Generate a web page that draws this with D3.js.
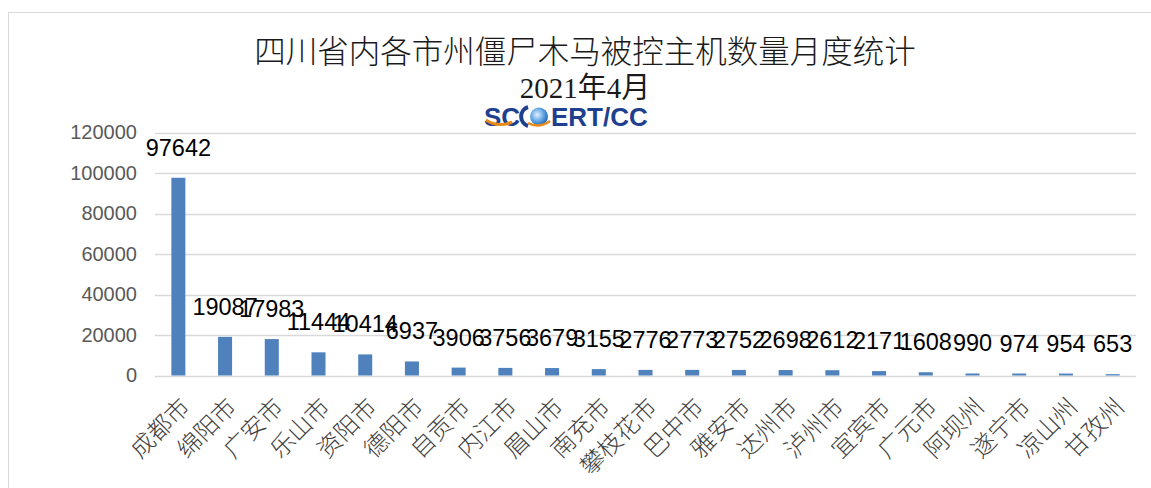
<!DOCTYPE html>
<html>
<head>
<meta charset="utf-8">
<script src="https://cdn.jsdelivr.net/npm/d3@7"></script>
<style>
  html, body { margin: 0; padding: 0; background: #fff; }
  svg { display: block; }
</style>
</head>
<body>
<svg id="chart" width="1151" height="488"></svg>
<script>
// Monthly count of botnet-controlled hosts per city/prefecture, April 2021
const categories = ["成都市","绵阳市","广安市","乐山市","资阳市","德阳市","自贡市","内江市","眉山市","南充市","攀枝花市","巴中市","雅安市","达州市","泸州市","宜宾市","广元市","阿坝州","遂宁市","凉山州","甘孜州"];
const values = [97642,19087,17983,11444,10414,6937,3906,3756,3679,3155,2776,2773,2752,2698,2612,2171,1608,990,974,954,653];
const yTicks = [0,20000,40000,60000,80000,100000,120000];

const svg = d3.select("#chart");

// outer chart frame
svg.append("rect")
  .attr("x", 8.5).attr("y", 12.5)
  .attr("width", 1160).attr("height", 490)
  .attr("fill", "#fff").attr("stroke", "#d9d9d9");

const plot = { left: 155, right: 1136, top: 132.5, bottom: 375.5 };

const x = d3.scaleBand().domain(categories).range([plot.left, plot.right]).paddingInner(0.7).paddingOuter(0.35);
const y = d3.scaleLinear().domain([0, 120000]).range([plot.bottom, plot.top]);

// gridlines
svg.append("g")
  .selectAll("line").data(yTicks).join("line")
  .attr("x1", plot.left).attr("x2", plot.right)
  .attr("y1", d => Math.round(y(d)) + 0.5).attr("y2", d => Math.round(y(d)) + 0.5)
  .attr("stroke", "#d9d9d9").attr("stroke-width", 1.3);

// y axis labels
const yAxis = d3.axisLeft(y).tickValues(yTicks).tickSize(0).tickPadding(0).tickFormat(d3.format("d"));
const gy = svg.append("g").attr("transform", `translate(${plot.left - 18},0)`).call(yAxis);
gy.select(".domain").remove();
gy.selectAll("text")
  .attr("fill", "#595959")
  .style("font-family", "'Liberation Sans', Arial, sans-serif")
  .style("font-size", "20px");

// bars
svg.append("g")
  .selectAll("rect").data(values).join("rect")
  .attr("x", (d, i) => x(categories[i]))
  .attr("width", x.bandwidth())
  .attr("y", d => y(d))
  .attr("height", d => plot.bottom - y(d))
  .attr("fill", "#4f81bd");

// value labels
svg.append("g")
  .selectAll("text").data(values).join("text")
  .attr("x", (d, i) => x(categories[i]) + x.bandwidth() / 2)
  .attr("y", d => y(d) - 22)
  .attr("text-anchor", "middle")
  .attr("fill", "#000")
  .style("font-family", "'Liberation Sans', Arial, sans-serif")
  .style("font-size", "23.5px")
  .text(d => d);

// category labels, rotated
const xAxis = d3.axisBottom(x).tickSize(0).tickPadding(0);
const gx = svg.append("g").attr("transform", `translate(0,${plot.bottom})`).call(xAxis);
gx.select(".domain").remove();
gx.selectAll("text")
  .attr("text-anchor", "end")
  .attr("dy", 0)
  .attr("transform", "translate(13,33) rotate(-45)")
  .attr("fill", "#404040")
  .style("font-family", "'Noto Sans CJK SC', sans-serif")
  .style("font-weight", "300")
  .style("font-size", "24px");

// title
svg.append("text")
  .attr("x", 585).attr("y", 63)
  .attr("text-anchor", "middle")
  .attr("fill", "#1a1a1a")
  .style("font-family", "'Noto Sans CJK SC', sans-serif")
  .style("font-weight", "300")
  .style("font-size", "31.5px")
  .text("四川省内各市州僵尸木马被控主机数量月度统计");

svg.append("text")
  .attr("x", 585).attr("y", 98)
  .attr("text-anchor", "middle")
  .attr("fill", "#1a1a1a")
  .style("font-family", "'Liberation Serif', 'Noto Sans CJK SC', serif")
  .style("font-size", "29px")
  .text("2021年4月");

// SCCERT/CC logo
const logo = svg.append("g").attr("transform", "translate(484,126)");
const defs = svg.append("defs");
const grad = defs.append("radialGradient").attr("id", "globe").attr("cx", "40%").attr("cy", "40%").attr("r", "65%");
grad.append("stop").attr("offset", "0%").attr("stop-color", "#dfefff");
grad.append("stop").attr("offset", "60%").attr("stop-color", "#5aa0e0");
grad.append("stop").attr("offset", "100%").attr("stop-color", "#1f5fae");
const logoFont = "'Liberation Sans Narrow', 'Liberation Sans', Arial, sans-serif";
logo.append("text").attr("x", 0).attr("y", 0)
  .attr("fill", "#1f3f8f").style("font-family", logoFont).style("font-weight", "bold")
  .style("font-size", "26px").text("SC");
logo.append("path")
  .attr("d", "M2,-6 Q14,2 28,-4")
  .attr("fill", "none").attr("stroke", "#e88a1a").attr("stroke-width", 3);
logo.append("path")
  .attr("d", "M44,-19 A10,10 0 0 0 44,0")
  .attr("fill", "none").attr("stroke", "#1f3f8f").attr("stroke-width", 4);
logo.append("circle").attr("cx", 55).attr("cy", -9.5).attr("r", 9).attr("fill", "url(#globe)");
logo.append("path")
  .attr("d", "M44,-3 Q55,3 66,-5")
  .attr("fill", "none").attr("stroke", "#e88a1a").attr("stroke-width", 2.5);
logo.append("text").attr("x", 67).attr("y", 0)
  .attr("fill", "#1f3f8f").style("font-family", logoFont).style("font-weight", "bold")
  .style("font-size", "26px").text("ERT/CC");
</script>
</body>
</html>
